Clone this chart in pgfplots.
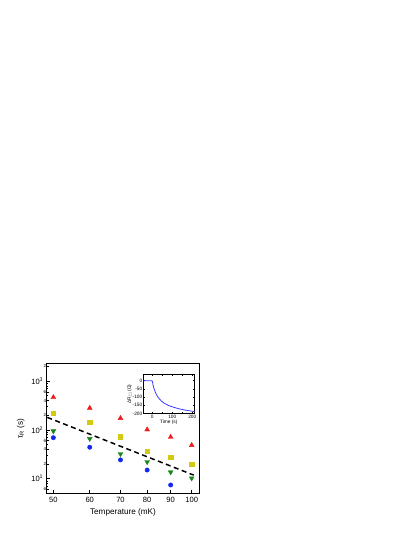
\documentclass[border=0pt]{standalone}
\usepackage{fontspec}
\setmainfont{Liberation Sans}
\usepackage{amssymb}
\usepackage{pgfplots}
\pgfplotsset{compat=1.18}
\definecolor{ptRed}{HTML}{F01818}
\definecolor{ptYel}{HTML}{D2CA10}
\definecolor{ptGrn}{HTML}{17861A}
\definecolor{ptBlu}{HTML}{1028F0}
\definecolor{curveBlu}{HTML}{3A3AFF}
\newcommand{\tinyfont}{\fontsize{4.5}{4.5}\selectfont}
\newcommand{\insetfont}{\fontsize{4.8}{5.4}\selectfont}
\begin{document}
\begin{tikzpicture}
\path[use as bounding box] (0,0) rectangle (415bp,537bp);

% ---- main panel ----
\begin{axis}[
  at={(46.7bp,43.7bp)}, anchor=south west,
  scale only axis, width=152.6bp, height=129.6bp,
  xmode=log, ymode=log,
  xmin=48.36, xmax=103.9, ymin=5, ymax=2270,
  axis line style={black, line width=0.9bp},
  xtick={50,60,70,80,90,100},
  xticklabels={50,60,70,80,90,100},
  minor xtick={},
  ytick={10,100,1000},
  yticklabels={10\textsuperscript{1},10\textsuperscript{2},10\textsuperscript{3}},
  minor ytick={7,8,9,30,50,70,80,90,300,500,700,800,900},
  extra y ticks={6,20,40,60,200,400,600,2000},
  extra y tick labels={6,2,4,6,2,4,6,2},
  extra y tick style={major tick length=1.8bp,
    tick label style={font=\tinyfont, inner sep=0.4bp}},
  xtick pos=lower, ytick pos=left,
  major tick length=3bp, minor tick length=1.6bp,
  tick style={black, line width=0.5bp},
  tick label style={font=\fontsize{7.6}{8.5}\selectfont},
  label style={font=\fontsize{8.2}{9}\selectfont},
  xlabel={Temperature (mK)},
  ylabel={τ\textsubscript{R} (s)},
  clip=false,
]
  % dashed fit
  \addplot[black, line width=1.5bp, dash pattern=on 5bp off 3.5bp]
    coordinates {(48.5,180) (101,11.8)};
  % red up-triangles
  \addplot[only marks, mark=triangle*, mark size=2.8bp, mark options={draw=ptRed, fill=ptRed}]
    coordinates {(50,464) (60,279) (70,173) (80,101) (90,71) (100,48.4)};
  % yellow squares
  \addplot[only marks, mark=square*, mark size=2.1bp, mark options={draw=ptYel, fill=ptYel}]
    coordinates {(50,223) (60,145) (70,72.3) (80,36.4) (90,27.9) (100,19.6)};
  % green down-triangles
  \addplot[only marks, mark=triangle*, mark size=2.8bp, mark options={draw=ptGrn, fill=ptGrn, rotate=180}]
    coordinates {(50,94.4) (60,65.7) (70,32.1) (80,22) (90,13.6) (100,10.2)};
  % blue circles
  \addplot[only marks, mark=*, mark size=2.2bp, mark options={draw=ptBlu, fill=ptBlu}]
    coordinates {(50,69) (60,44) (70,24.2) (80,15) (90,7.4)};
\end{axis}

% ---- inset ----
\begin{axis}[
  at={(143.3bp,123.3bp)}, anchor=south west,
  scale only axis, width=51bp, height=39.7bp,
  xmin=-45, xmax=210, ymin=-202, ymax=41,
  axis line style={black, line width=0.6bp},
  xtick={0,100,200}, minor xtick={50,150},
  xticklabels={0,100,200},
  ytick={-200,-150,-100,-50,0},
  yticklabels={-200,-150,-100,-50,0},
  minor ytick={},
  major tick length=1.8bp, minor tick length=1.8bp,
  tick style={black, line width=0.4bp},
  tick label style={font=\insetfont, inner sep=0.8bp},
  label style={font=\insetfont, inner sep=0.8bp},
  xlabel={Time (s)},
  ylabel={ΔR\textsubscript{$\square$} (Ω)},
  ylabel style={yshift=-1bp},
]
  \addplot[curveBlu, line width=0.8bp]
    coordinates {(-45,0) (-5,0) (0,-2) (3,-22) (7,-42) (12,-60) (20,-84)
      (30,-104) (45,-124) (60,-138) (80,-151) (100,-160) (130,-171)
      (160,-179) (200,-187) (210,-189)};
\end{axis}
\end{tikzpicture}
\end{document}
